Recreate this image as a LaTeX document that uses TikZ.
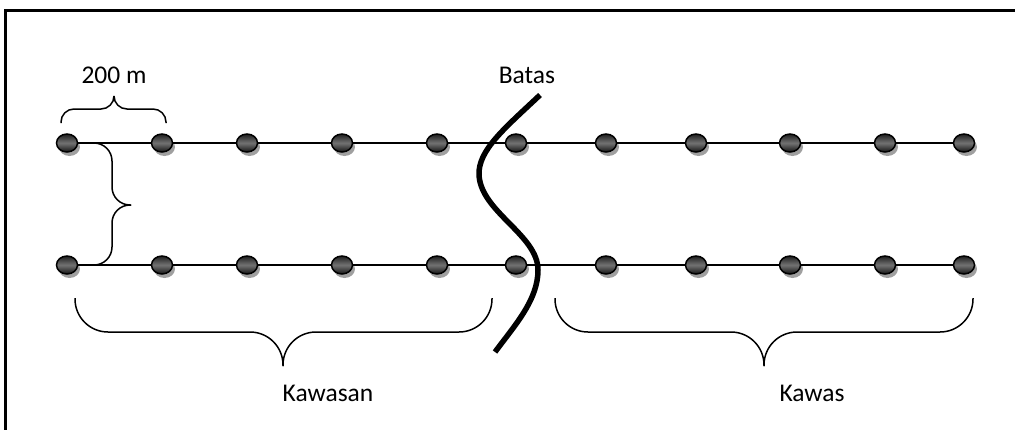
\documentclass[tikz,border=0pt]{standalone}
\usepackage{fontspec}
\setmainfont{Carlito}
\usetikzlibrary{shadows,shapes.geometric}
\begin{document}
\begin{tikzpicture}[x=1pt,y=-1pt,
  dot/.style={ellipse,minimum width=21pt,minimum height=18pt,inner sep=0pt,
    draw=black,line width=1.5pt,
    top color=black!88,bottom color=black!92,middle color=black!55,
    drop shadow={shadow xshift=2.5pt,shadow yshift=-4pt,fill=black!50,opacity=0.75}},
  link/.style={line width=1.4pt,black},
  bracepath/.style={line width=1.5pt,black},
  lbl/.style={font=\fontsize{25.5}{30}\selectfont,anchor=base,inner sep=0pt},
  batas/.style={line width=5.5pt,black,line cap=butt}]
\useasboundingbox (0,0) rectangle (1015,429);
\begin{scope}
\clip (0,0) rectangle (1015,429);
\draw[line width=2.2pt] (5.5,480) -- (5.5,10.5) -- (1080,10.5);
\end{scope}
% dots
\foreach \i/\x in {1/67,2/162,3/247,4/342,5/437,6/516,7/606,8/696,9/790,10/885,11/964}{
  \node[dot] (t\i) at (\x,143) {};
  \node[dot] (b\i) at (\x,265) {};
}
\foreach \i [evaluate=\i as \j using int(\i+1)] in {1,...,10}{
  \draw[link] (t\i) -- (t\j);
  \draw[link] (b\i) -- (b\j);
}
% top brace 200 m
\draw[bracepath,rounded corners=13pt] (61,123) -- (61,109) -- (114,109) -- (114,96);
\draw[bracepath,rounded corners=13pt] (166,123) -- (166,109) -- (114,109) -- (114,96);
\node[lbl] (l200) at (114,83) {200 m};
% left vertical brace
\draw[bracepath,rounded corners=18pt] (92,143) -- (112,143) -- (112,205) -- (131,205);
\draw[bracepath,rounded corners=18pt] (92,265) -- (112,265) -- (112,205) -- (131,205);
% bottom braces
\draw[bracepath,rounded corners=33pt] (75,298) -- (75,332) -- (283,332) -- (283,366);
\draw[bracepath,rounded corners=33pt] (492,298) -- (492,332) -- (283,332) -- (283,366);
\draw[bracepath,rounded corners=33pt] (555,298) -- (555,332) -- (764,332) -- (764,366);
\draw[bracepath,rounded corners=33pt] (973,298) -- (973,332) -- (764,332) -- (764,366);
\node[lbl] (lkawasan) at (328,401) {Kawasan};
\node[lbl] (lkawas) at (812,401) {Kawas};
% boundary
\draw[batas] (540,95) .. controls (505,128) and (478,150) .. (479,175)
  .. controls (481,212) and (538,235) .. (538,270)
  .. controls (538,300) and (515,325) .. (495,352);
\node[lbl] (lbatas) at (527,83) {Batas};
\end{tikzpicture}
\end{document}
